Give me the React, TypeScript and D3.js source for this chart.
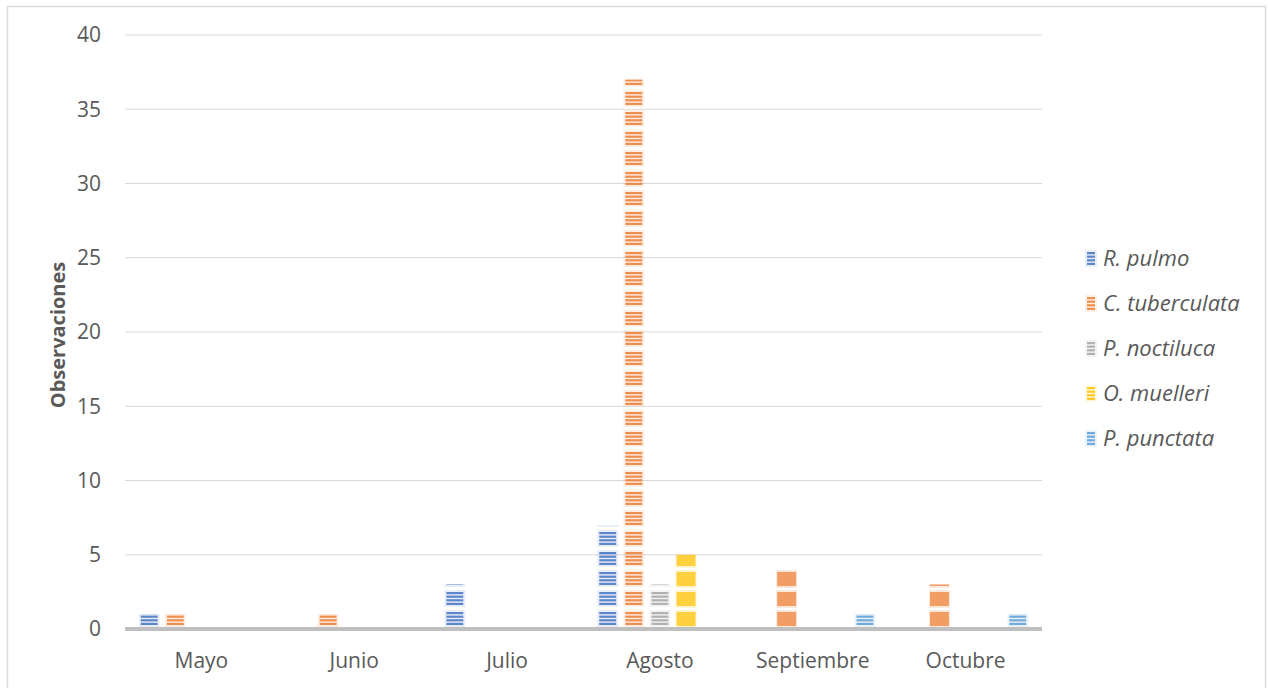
import React from "react";
import * as d3 from "d3";

const months = ["Mayo", "Junio", "Julio", "Agosto", "Septiembre", "Octubre"];
const speciesNames = ["R. pulmo", "C. tuberculata", "P. noctiluca", "O. muelleri", "P. punctata"];
const rPulmo = [1, 0, 3, 7, 0, 0];
const cTuberculata = [1, 1, 0, 37, 4, 3];
const pNoctiluca = [0, 0, 0, 3, 0, 0];
const oMuelleri = [0, 0, 0, 5, 0, 0];
const pPunctata = [0, 0, 0, 0, 1, 1];
const yTicks = [0, 5, 10, 15, 20, 25, 30, 35, 40];

const seriesValues = [rPulmo, cTuberculata, pNoctiluca, oMuelleri, pPunctata];
const colors = ["#4472C4", "#ED7D31", "#A5A5A5", "#FFC000", "#5B9BD5"];

const W = 1268;
const H = 688;
const margin = { left: 125, right: 226, top: 35, bottom: 59 };
const tileH = 20;

// the tiles are pictures in the original: striped ones, and a few blurred solid ones
const isSolid = (s: number, m: number) =>
  s === 3 || (s === 1 && (months[m] === "Septiembre" || months[m] === "Octubre"));

const font = "'Open Sans', sans-serif";

function Tile({ x, y, w, color, solid }: { x: number; y: number; w: number; color: string; solid: boolean }) {
  if (solid) {
    return (
      <g>
        <rect x={x} y={y + 1} width={w} height={tileH - 2} fill={color} opacity={0.18} />
        <rect x={x + 1} y={y + 3} width={w - 2} height={tileH - 6} fill={color} opacity={0.7} />
      </g>
    );
  }
  const stripes = d3.range(4);
  return (
    <g>
      <rect x={x} y={y + 1} width={w} height={tileH - 3} fill={color} opacity={0.12} />
      {stripes.map((i) => (
        <rect key={i} x={x + 2} y={y + 3 + i * 3.6} width={w - 4} height={2.2} fill={color} opacity={0.85} />
      ))}
    </g>
  );
}

export default function App() {
  const x0 = d3.scaleBand<string>().domain(months).range([margin.left, W - margin.right]).paddingInner(0.18).paddingOuter(0.09);
  const x1 = d3.scaleBand<string>().domain(speciesNames).range([0, x0.bandwidth()]).paddingInner(0.2);
  const y = d3.scaleLinear().domain([0, 40]).range([H - margin.bottom, margin.top]);
  const base = y(0);

  const bars: React.ReactNode[] = [];
  seriesValues.forEach((vals, s) => {
    vals.forEach((v, m) => {
      if (!v) return;
      const bx = (x0(months[m]) ?? 0) + (x1(speciesNames[s]) ?? 0);
      const bw = x1.bandwidth();
      const top = y(v);
      const n = Math.ceil((base - top) / tileH);
      const id = `clip-${s}-${m}`;
      bars.push(
        <g key={id}>
          <clipPath id={id}>
            <rect x={bx - 2} y={top} width={bw + 4} height={base - top} />
          </clipPath>
          <g clipPath={`url(#${id})`}>
            {d3.range(n).map((k) => (
              <Tile key={k} x={bx} y={base - (k + 1) * tileH} w={bw} color={colors[s]} solid={isSolid(s, m)} />
            ))}
          </g>
        </g>
      );
    });
  });

  return (
    <svg width={W} height={H} style={{ position: "absolute", left: 0, top: 0, background: "#fff" }}>
      <rect x={7.5} y={6.5} width={1258} height={700} fill="#fff" stroke="#d9d9d9" strokeWidth={1.5} />
      {yTicks.map((t) => (
        <g key={t}>
          {t > 0 && <line x1={margin.left} x2={W - margin.right} y1={y(t)} y2={y(t)} stroke="#d9d9d9" strokeWidth={1.2} />}
          <text x={101} y={y(t)} dy="0.35em" textAnchor="end" fontFamily={font} fontSize={21} fill="#595959">
            {t}
          </text>
        </g>
      ))}
      {bars}
      <line x1={margin.left} x2={W - margin.right} y1={base} y2={base} stroke="#bfbfbf" strokeWidth={4} />
      {months.map((m) => (
        <text key={m} x={(x0(m) ?? 0) + x0.bandwidth() / 2} y={661} dy="0.35em" textAnchor="middle" fontFamily={font} fontSize={21} fill="#595959">
          {m}
        </text>
      ))}
      <text transform={`translate(58,${(margin.top + base) / 2 + 3}) rotate(-90)`} textAnchor="middle" dy="0.35em" fontFamily={font} fontSize={20} fontWeight="bold" fill="#595959">
        Observaciones
      </text>
      {speciesNames.map((name, i) => {
        const ly = 258 + i * 45;
        return (
          <g key={name}>
            <Tile x={1085} y={ly - 9} w={12} color={colors[i]} solid={false} />
            <text x={1103} y={ly} dy="0.35em" fontFamily={font} fontSize={22} fontStyle="italic" fill="#595959">
              {name}
            </text>
          </g>
        );
      })}
    </svg>
  );
}
